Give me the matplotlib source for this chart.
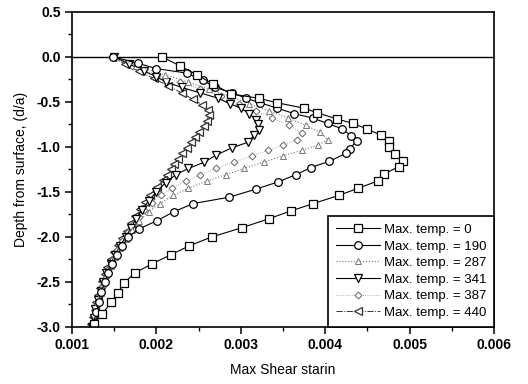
import matplotlib
matplotlib.use("Agg")
import matplotlib.pyplot as plt
from matplotlib.ticker import MultipleLocator, FormatStrFormatter

plt.rcParams['font.family'] = ['Liberation Sans', 'DejaVu Sans']
plt.rcParams['axes.unicode_minus'] = False

# ---- data (depth d/a, max shear strain) ----
sq_d = [0.0, -0.10, -0.20, -0.30, -0.41, -0.46, -0.51, -0.57, -0.62, -0.69, -0.74, -0.80, -0.87, -0.94, -1.00,
        -1.08, -1.16, -1.22, -1.30, -1.38, -1.46, -1.54, -1.63, -1.71, -1.80, -1.90, -2.00, -2.10, -2.20, -2.30,
        -2.40, -2.51, -2.62, -2.73, -2.86, -2.97]
sq_x = [0.00207, 0.00228, 0.00248, 0.00267, 0.00288, 0.00321, 0.00343, 0.00375, 0.00390, 0.00414, 0.00433,
        0.00449, 0.00466, 0.00475, 0.00476, 0.00482, 0.00492, 0.00487, 0.00470, 0.00462, 0.00439, 0.00416,
        0.00386, 0.00360, 0.00333, 0.00301, 0.00266, 0.00239, 0.00217, 0.00195, 0.00175, 0.00162, 0.00155,
        0.00146, 0.00136, 0.00126]

ci_d = [0.0, -0.07, -0.13, -0.18, -0.26, -0.34, -0.40, -0.46, -0.51, -0.57, -0.63, -0.68, -0.74, -0.80, -0.88,
        -0.93, -1.02, -1.07, -1.16, -1.23, -1.31, -1.39, -1.47, -1.56, -1.63, -1.72, -1.82, -1.91, -2.00, -2.10,
        -2.20, -2.30, -2.40, -2.50, -2.61, -2.72, -2.84, -2.96]
ci_x = [0.00149, 0.00178, 0.00200, 0.00236, 0.00255, 0.00270, 0.00290, 0.00306, 0.00323, 0.00343, 0.00363,
        0.00385, 0.00403, 0.00420, 0.00431, 0.00438, 0.00429, 0.00425, 0.00405, 0.00383, 0.00365, 0.00344,
        0.00318, 0.00286, 0.00244, 0.00221, 0.00201, 0.00180, 0.00167, 0.00160, 0.00154, 0.00148, 0.00143,
        0.00139, 0.00135, 0.00132, 0.00129, 0.00126]

tu_d = [0.0, -0.10, -0.20, -0.28, -0.36, -0.44, -0.52, -0.60, -0.68, -0.76, -0.84, -0.92, -0.98, -1.04, -1.10,
        -1.17, -1.24, -1.31, -1.38, -1.46, -1.54, -1.63, -1.72, -1.82, -1.92, -2.02, -2.12, -2.22, -2.32, -2.42,
        -2.52, -2.62, -2.72, -2.82, -2.92]
tu_x = [0.00151, 0.00176, 0.00210, 0.00238, 0.00262, 0.00288, 0.00310, 0.00333, 0.00356, 0.00377, 0.00394,
        0.00403, 0.00392, 0.00372, 0.00350, 0.00327, 0.00304, 0.00282, 0.00260, 0.00238, 0.00220, 0.00204,
        0.00191, 0.00180, 0.00171, 0.00164, 0.00157, 0.00151, 0.00146, 0.00141, 0.00137, 0.00134, 0.00131,
        0.00128, 0.00126]

td_d = [0.0, -0.08, -0.16, -0.22, -0.28, -0.34, -0.40, -0.46, -0.52, -0.57, -0.63, -0.70, -0.75, -0.81, -0.87,
        -0.95, -1.01, -1.09, -1.17, -1.24, -1.31, -1.40, -1.50, -1.60, -1.70, -1.80, -1.90, -2.00, -2.10, -2.20,
        -2.30, -2.40, -2.50, -2.60, -2.70, -2.80, -2.90, -3.00]
td_x = [0.00150, 0.00168, 0.00186, 0.00200, 0.00212, 0.00230, 0.00252, 0.00273, 0.00287, 0.00300, 0.00310,
        0.00318, 0.00320, 0.00321, 0.00316, 0.00308, 0.00290, 0.00271, 0.00257, 0.00238, 0.00223, 0.00211,
        0.00200, 0.00191, 0.00183, 0.00176, 0.00170, 0.00164, 0.00157, 0.00151, 0.00146, 0.00141, 0.00137,
        0.00134, 0.00131, 0.00128, 0.00126, 0.00124]

di_d = [0.0, -0.10, -0.20, -0.28, -0.36, -0.44, -0.52, -0.60, -0.68, -0.76, -0.85, -0.92, -0.98, -1.04, -1.10,
        -1.17, -1.24, -1.31, -1.38, -1.46, -1.54, -1.62, -1.70, -1.78, -1.86, -1.95, -2.05, -2.15, -2.25, -2.35,
        -2.45, -2.55, -2.65, -2.75, -2.85, -2.95]
di_x = [0.00148, 0.00171, 0.00201, 0.00228, 0.00252, 0.00277, 0.00298, 0.00318, 0.00337, 0.00357, 0.00373,
        0.00366, 0.00350, 0.00332, 0.00313, 0.00292, 0.00271, 0.00252, 0.00235, 0.00219, 0.00205, 0.00195,
        0.00186, 0.00179, 0.00173, 0.00167, 0.00160, 0.00154, 0.00149, 0.00144, 0.00140, 0.00136, 0.00133,
        0.00130, 0.00127, 0.00125]

tl_d = [0.0, -0.08, -0.16, -0.24, -0.32, -0.40, -0.47, -0.53, -0.59, -0.65, -0.71, -0.77, -0.83, -0.89, -0.95,
        -1.01, -1.07, -1.13, -1.19, -1.25, -1.31, -1.37, -1.45, -1.53, -1.61, -1.69, -1.77, -1.85, -1.93, -2.01,
        -2.09, -2.17, -2.25, -2.33, -2.41, -2.49, -2.57, -2.65, -2.73, -2.81, -2.89, -2.97]
tl_x = [0.00148, 0.00163, 0.00180, 0.00197, 0.00214, 0.00230, 0.00243, 0.00254, 0.00261, 0.00262, 0.00260,
        0.00256, 0.00251, 0.00246, 0.00241, 0.00236, 0.00231, 0.00226, 0.00221, 0.00217, 0.00213, 0.00208,
        0.00201, 0.00193, 0.00187, 0.00181, 0.00175, 0.00170, 0.00165, 0.00160, 0.00155, 0.00150, 0.00146,
        0.00142, 0.00139, 0.00136, 0.00133, 0.00131, 0.00129, 0.00127, 0.00125, 0.00123]

labels = ['Max. temp. = 0', 'Max. temp. = 190', 'Max. temp. = 287',
          'Max. temp. = 341', 'Max. temp. = 387', 'Max. temp. = 440']

fig = plt.figure(figsize=(5.28, 3.84), dpi=100)
ax = fig.add_axes([0.136, 0.149, 0.800, 0.820])

ax.axhline(0.0, color='black', lw=1.0, zorder=1)

mk = dict(mfc='white', mew=0.9, ms=5.5)
ax.plot(tl_x, tl_d, linestyle='-.', marker='<', color='#333333', lw=0.7, mec='#333333', label=labels[5], **mk)
ax.plot(di_x, di_d, linestyle=':', marker='D', color='#999999', lw=0.6, mec='#666666', mfc='white', mew=0.7, ms=3.5, label=labels[4])
ax.plot(td_x, td_d, linestyle='-', marker='v', color='black', lw=0.8, mec='black', label=labels[3], **mk)
ax.plot(tu_x, tu_d, linestyle=':', marker='^', color='#777777', lw=0.8, mec='#777777', mfc='white', mew=0.7, ms=4.5, label=labels[2])
ax.plot(ci_x, ci_d, linestyle='-', marker='o', color='black', lw=0.8, mec='black', label=labels[1], **mk)
ax.plot(sq_x, sq_d, linestyle='-', marker='s', color='black', lw=0.8, mec='black', label=labels[0], **mk)

ax.set_xlim(0.001, 0.006)
ax.set_ylim(-3.0, 0.5)
ax.xaxis.set_major_locator(MultipleLocator(0.001))
ax.xaxis.set_minor_locator(MultipleLocator(0.0005))
ax.yaxis.set_major_locator(MultipleLocator(0.5))
ax.yaxis.set_minor_locator(MultipleLocator(0.25))
ax.xaxis.set_major_formatter(FormatStrFormatter('%.3f'))
ax.yaxis.set_major_formatter(FormatStrFormatter('%.1f'))
ax.tick_params(which='major', direction='out', length=5, width=1.1, labelsize=10, pad=3)
ax.tick_params(which='minor', direction='out', length=3, width=1.0)
for lab in ax.get_xticklabels() + ax.get_yticklabels():
    lab.set_fontweight('bold')
for s in ax.spines.values():
    s.set_linewidth(1.2)

ax.set_xlabel('Max Shear starin', fontsize=10, labelpad=8)
ax.set_ylabel('Depth from surface, (d/a)', fontsize=10, labelpad=6)

h, l = ax.get_legend_handles_labels()
leg = ax.legend(h[::-1], l[::-1], loc='lower right', borderaxespad=0.0, fontsize=9.5,
                handlelength=3.3, handletextpad=0.3, labelspacing=0.33, borderpad=0.6,
                fancybox=False, framealpha=1.0, edgecolor='black')
leg.get_frame().set_linewidth(1.2)

fig.savefig('out.png', dpi=100)
